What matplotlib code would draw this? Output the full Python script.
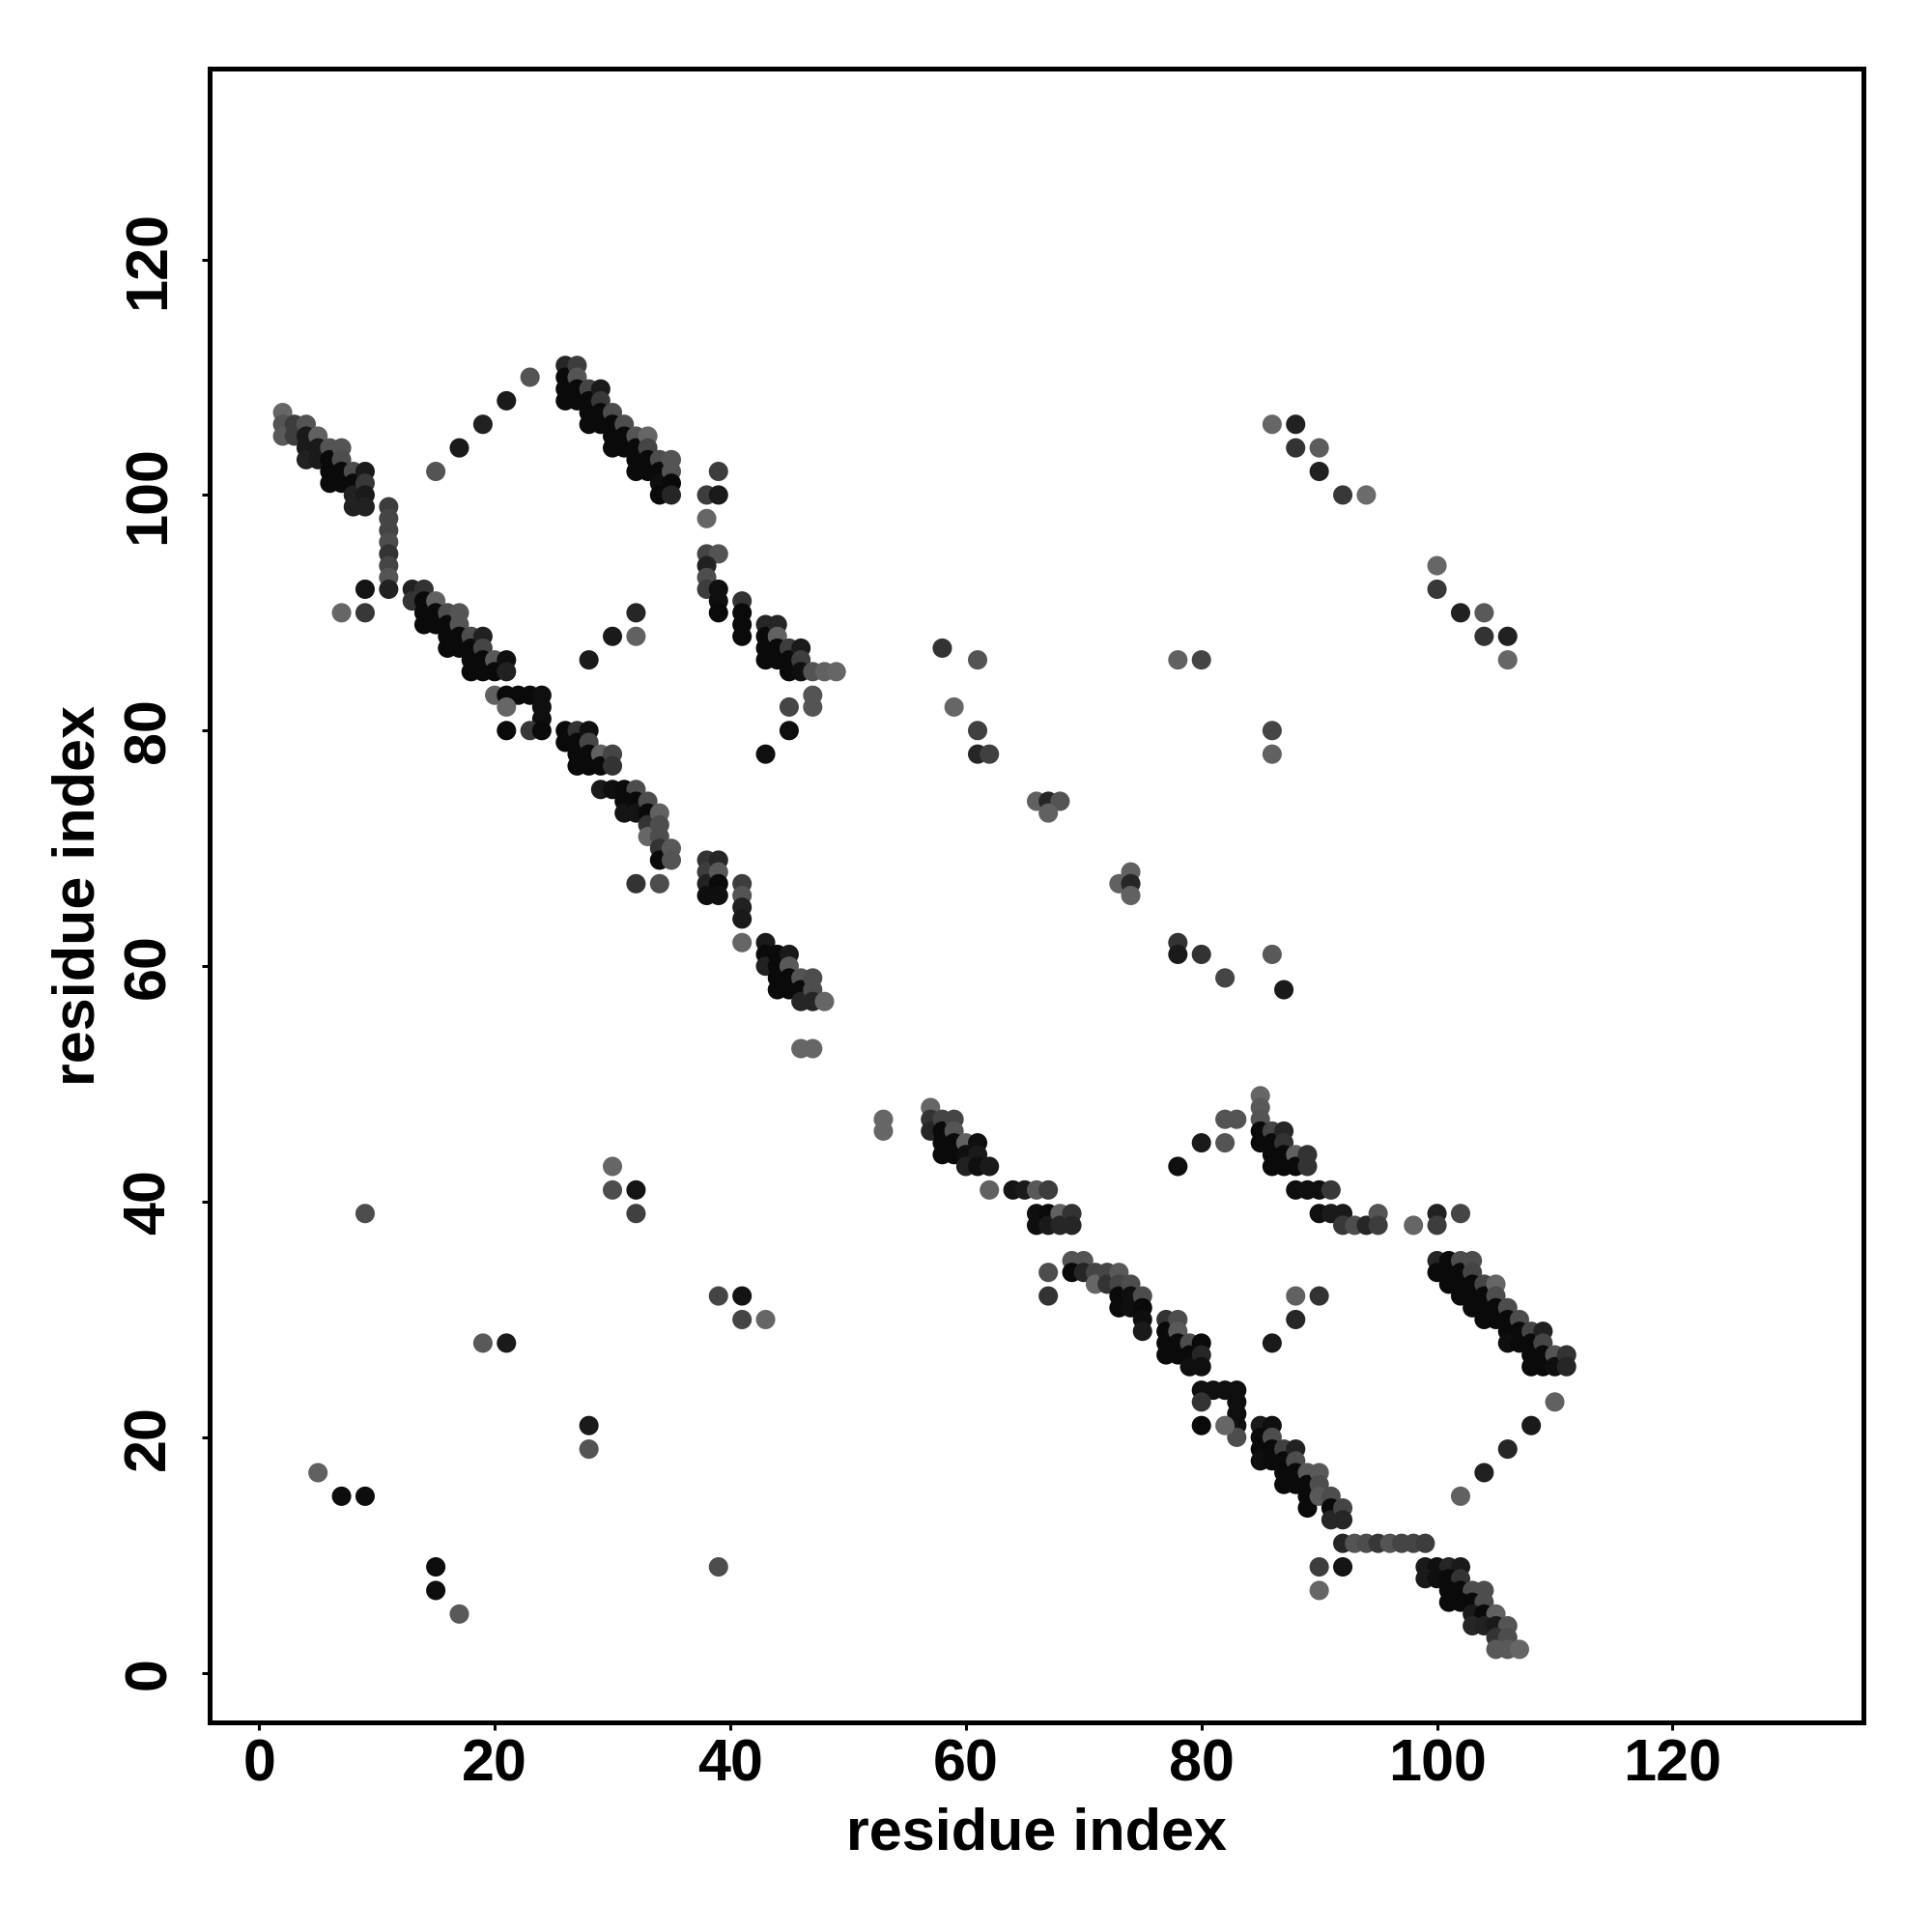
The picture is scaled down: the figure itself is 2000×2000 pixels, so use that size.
import matplotlib
matplotlib.use("Agg")
import matplotlib.pyplot as plt

# contact points: (residue i, residue j, grey level 0=black .. 1=white)
band_a = [(2,107,.4),(2,106,.33),(2,105,.35),(3,106,.24),(3,105,.24),
          (4,106,.33),(4,105,.1),(4,104,.1),(4,103,.13),
          (5,105,.38),(5,104,.1),(5,103,.1),
          (6,104,.33),(6,103,.04),(6,102,.04),(6,101,.04),
          (7,104,.33),(7,103,.3),(7,102,.04),(7,101,.04),
          (8,102,.3),(8,101,.04),(8,100,.13),(8,99,.13),
          (9,102,.1),(9,101,.22),(9,100,.1),(9,99,.13)]
column_11 = [(11,99,.24),(11,98,.27),(11,97,.27),(11,96,.3),(11,95,.2),
             (11,94,.27),(11,93,.33),(11,92,.13),
             (9,92,.08),(7,90,.4),(9,90,.22)]
arc_top = [(15,102,.33),(17,104,.1),(19,106,.13),(21,108,.1),(23,110,.33)]
band_b = [(13,92,.13),(13,91,.2),(14,92,.2),(14,91,.04),(14,90,.04),(14,89,.04),
          (15,91,.38),(15,90,.04),(15,89,.04),
          (16,90,.3),(16,89,.04),(16,88,.04),(16,87,.04),
          (17,90,.33),(17,89,.33),(17,88,.04),(17,87,.04),
          (18,88,.3),(18,87,.04),(18,86,.04),(18,85,.04),
          (19,88,.13),(19,87,.27),(19,86,.04),(19,85,.04),
          (20,86,.35),(20,85,.04),(21,86,.06),(21,85,.13),
          (20,83,.38),(21,83,.04),(22,83,.04),(23,83,.04),(24,83,.06),
          (21,82,.4),(24,82,.06),(24,81,.06),(21,80,.04),(23,80,.22),(24,80,.04)]
band_c = [(26,111,.15),(26,110,.04),(26,109,.04),(26,108,.04),
          (27,111,.24),(27,110,.33),(27,109,.04),(27,108,.04),
          (28,109,.27),(28,108,.04),(28,107,.04),(28,106,.04),
          (29,109,.1),(29,108,.22),(29,107,.04),(29,106,.04),
          (30,107,.3),(30,106,.04),(30,105,.04),(30,104,.04),
          (31,106,.3),(31,105,.04),(31,104,.04),
          (32,105,.33),(32,104,.04),(32,103,.04),(32,102,.04),
          (33,105,.4),(33,104,.27),(33,103,.04),(33,102,.04),
          (34,103,.3),(34,102,.04),(34,101,.06),(34,100,.04),
          (35,103,.33),(35,102,.33),(35,101,.04),(35,100,.15)]
band_h = [(38,100,.24),(39,100,.1),(39,102,.24),(38,98,.4),
          (38,95,.27),(39,95,.33),(38,94,.13),(38,93,.3),(38,92,.24),
          (39,92,.06),(39,91,.06),(39,90,.04),
          (41,91,.2),(41,90,.04),(41,89,.04),(41,88,.04),
          (43,89,.15),(43,88,.04),(43,87,.04),(43,86,.04),
          (44,89,.15),(44,88,.38),(44,87,.04),(44,86,.04),
          (45,87,.24),(45,86,.04),(45,85,.04),
          (46,87,.1),(46,86,.24),(46,85,.06),
          (47,85,.33),(48,85,.38),(49,85,.4),
          (47,83,.33),(47,82,.33),(45,82,.27),(45,80,.06),(43,78,.06),
          (32,90,.15),(32,88,.38),(30,88,.1),(28,86,.1)]
band_i = [(26,80,.04),(26,79,.04),(27,80,.2),(27,79,.04),(27,78,.04),(27,77,.04),
          (28,80,.06),(28,79,.27),(28,78,.04),(28,77,.04),
          (29,78,.38),(29,77,.04),(30,78,.27),(30,77,.2),
          (29,75,.1),(30,75,.06),(31,75,.04),(32,75,.3),
          (31,74,.04),(31,73,.08),(32,74,.04),(32,73,.08),
          (33,74,.3),(33,73,.04),(33,72,.2),(33,71,.4),
          (34,73,.38),(34,72,.3),(34,71,.3),(34,70,.2),(34,69,.04),
          (35,70,.35),(35,69,.33),(32,67,.2),(34,67,.3)]
band_j = [(38,69,.2),(38,68,.24),(38,67,.13),(38,66,.06),
          (39,69,.15),(39,68,.35),(39,67,.04),(39,66,.06),
          (41,67,.24),(41,66,.33),(41,65,.13),(41,64,.1),(41,62,.4),
          (43,62,.1),(43,61,.04),(43,60,.13),
          (44,61,.04),(44,60,.04),(44,59,.04),(44,58,.04),
          (45,61,.1),(45,60,.35),(45,59,.04),(45,58,.04),
          (46,59,.33),(46,58,.04),(46,57,.15),
          (47,59,.3),(47,58,.3),(47,57,.15),(48,57,.4),
          (46,53,.4),(47,53,.4)]
upper_right = [(86,106,.4),(88,106,.13),(88,104,.2),(90,104,.36),(90,102,.13),
               (92,100,.22),(94,100,.42),
               (100,94,.4),(100,92,.22),(102,90,.13),(104,90,.35),(104,88,.2),
               (106,88,.13),(106,86,.4),
               (58,87,.2),(61,86,.33),(59,82,.4),(61,80,.25),(61,78,.15),(62,78,.25),
               (66,74,.38),(67,74,.15),(68,74,.33),(67,73,.38),
               (73,67,.38),(74,68,.38),(74,67,.15),(74,66,.38),
               (78,86,.38),(80,86,.27),(86,80,.27),(86,78,.38),
               (78,62,.2),(78,61,.1),(80,61,.2),(82,59,.27),(86,61,.35),(87,58,.1)]
lower_left = [(9,39,.3),(30,43,.4),(30,41,.3),(32,41,.08),(32,39,.25),
              (39,32,.27),(41,32,.08),(41,30,.27),(43,30,.4),
              (19,28,.35),(21,28,.1),(28,21,.1),(28,19,.33),
              (5,17,.38),(7,15,.05),(9,15,.05),(15,9,.05),(15,7,.05),(17,5,.35),
              (39,9,.3)]
band_d = [(53,47,.4),(53,46,.4),
          (57,48,.4),(57,47,.2),(57,46,.15),
          (58,47,.27),(58,46,.04),(58,45,.04),(58,44,.04),
          (59,47,.27),(59,46,.33),(59,45,.04),(59,44,.04),
          (60,45,.38),(60,44,.06),(60,43,.13),
          (61,45,.06),(61,44,.1),(61,43,.06),(62,43,.1)]
band_e = [(62,41,.38),(64,41,.08),(65,41,.1),(66,41,.35),(67,41,.24),
          (66,39,.06),(66,38,.06),(67,39,.04),(67,38,.1),(68,39,.38),(68,38,.15),
          (69,39,.2),(69,38,.15),(67,34,.3),(67,32,.2),
          (69,35,.33),(70,35,.33),(69,34,.04),(70,34,.15),(71,34,.27),(71,33,.4),
          (72,34,.27),(72,33,.2),
          (73,34,.35),(73,33,.27),(73,32,.04),(73,31,.04),
          (74,33,.3),(74,32,.06),(74,31,.06),
          (75,32,.3),(75,31,.04),(75,30,.06),(75,29,.1),
          (77,30,.2),(77,29,.04),(77,28,.04),(77,27,.04),
          (78,30,.3),(78,29,.35),(78,28,.04),(78,27,.04),
          (79,28,.3),(79,27,.04),(79,26,.06),
          (80,28,.04),(80,27,.15),(80,26,.06),
          (80,24,.06),(81,24,.06),(82,24,.06),(83,24,.06),(80,23,.2),
          (83,23,.06),(83,22,.06),(83,21,.06),(83,20,.3),(80,21,.04),(82,21,.4)]
band_k = [(85,21,.1),(86,21,.06),(85,20,.04),(85,19,.04),(85,18,.06),
          (86,20,.3),(86,19,.04),(86,18,.04),
          (87,19,.25),(87,18,.04),(87,17,.04),(87,16,.04),
          (88,19,.13),(88,18,.3),(88,17,.04),(88,16,.04),
          (89,17,.35),(89,16,.04),(89,15,.04),(89,14,.04),
          (90,17,.35),(90,16,.3),(90,15,.35),
          (91,15,.3),(91,14,.04),(91,13,.15),(92,14,.27),(92,13,.15),
          (92,11,.15),(93,11,.33),(94,11,.3),(95,11,.22),(96,11,.33),
          (97,11,.27),(98,11,.27),(99,11,.24),
          (90,9,.24),(92,9,.08),(90,7,.4)]
band_l = [(99,9,.1),(100,9,.06),(101,9,.15),(102,9,.1),
          (99,8,.1),(100,8,.06),(101,8,.04),(102,8,.2),
          (101,7,.04),(102,7,.04),(103,7,.3),(104,7,.3),
          (101,6,.04),(102,6,.04),(103,6,.04),(104,6,.3),
          (103,5,.1),(104,5,.04),(105,5,.38),
          (103,4,.15),(104,4,.13),(105,4,.1),(106,4,.33),
          (105,3,.2),(106,3,.3),(105,2,.35),(106,2,.35),(107,2,.4),
          (102,15,.38),(104,17,.13),(106,19,.15),(108,21,.1),(110,23,.38)]
band_f = [(78,43,.06),(80,45,.1),(82,45,.33),(82,47,.33),(83,47,.33),
          (86,28,.1),(88,30,.15),(88,32,.38),(90,32,.2),
          (85,49,.4),(85,48,.35),(85,47,.33),(85,46,.04),(85,45,.04),
          (86,46,.27),(86,45,.04),(86,44,.04),(86,43,.04),
          (87,46,.15),(87,45,.2),(87,44,.04),(87,43,.04),
          (88,44,.38),(88,43,.04),(89,44,.2),(89,43,.2),
          (88,41,.06),(89,41,.06),(90,41,.06),(91,41,.22),
          (90,39,.06),(91,39,.1),(92,39,.1),(92,38,.22),(93,38,.3),(94,38,.15),
          (95,39,.33),(95,38,.24),
          (98,38,.4),(100,39,.13),(100,38,.24),(102,39,.27)]
band_g = [(100,35,.15),(100,34,.04),(101,35,.04),(101,34,.04),(101,33,.04),
          (102,35,.3),(102,34,.04),(102,33,.04),(102,32,.04),
          (103,35,.3),(103,34,.27),(103,33,.04),(103,32,.04),(103,31,.04),
          (104,33,.27),(104,32,.04),(104,31,.04),(104,30,.04),
          (105,33,.4),(105,32,.3),(105,31,.04),(105,30,.04),
          (106,31,.3),(106,30,.04),(106,29,.04),(106,28,.06),
          (107,30,.3),(107,29,.04),(107,28,.04),
          (108,29,.27),(108,28,.04),(108,27,.04),(108,26,.04),
          (109,29,.13),(109,28,.27),(109,27,.04),(109,26,.04),
          (110,27,.33),(110,26,.06),(111,27,.2),(111,26,.15)]

groups = [band_a, column_11, arc_top, band_b, band_c, band_h, band_i, band_j,
          upper_right, lower_left, band_d, band_e, band_k, band_l, band_f, band_g]

plt.rcParams["font.family"] = ["Liberation Sans", "DejaVu Sans"]
plt.rcParams["font.weight"] = "bold"

fig = plt.figure(figsize=(10, 10), dpi=200)
ax = fig.add_axes([0.1085, 0.1085, 0.856, 0.856])

for g in groups:
    xs = [p[0] for p in g]
    ys = [p[1] for p in g]
    cs = [(p[2], p[2], p[2]) for p in g]
    ax.scatter(xs, ys, s=52, c=cs, linewidths=0, zorder=2)

ax.set_xlim(-4.2, 136.2)
ax.set_ylim(-4.2, 136.2)
ticks = [0, 20, 40, 60, 80, 100, 120]
ax.set_xticks(ticks)
ax.set_yticks(ticks)
ax.tick_params(axis="both", length=3, width=1.1, labelsize=22, direction="out")
ax.tick_params(axis="x", pad=3)
ax.tick_params(axis="y", pad=9)
for lab in ax.get_yticklabels():
    lab.set_rotation(90)
    lab.set_verticalalignment("center")
for sp in ax.spines.values():
    sp.set_linewidth(1.8)

ax.set_xlabel("residue index", fontsize=22, fontweight="bold", labelpad=5)
ax.set_ylabel("residue index", fontsize=22, fontweight="bold", labelpad=6)

fig.savefig("out.png", dpi=200, facecolor="white")
